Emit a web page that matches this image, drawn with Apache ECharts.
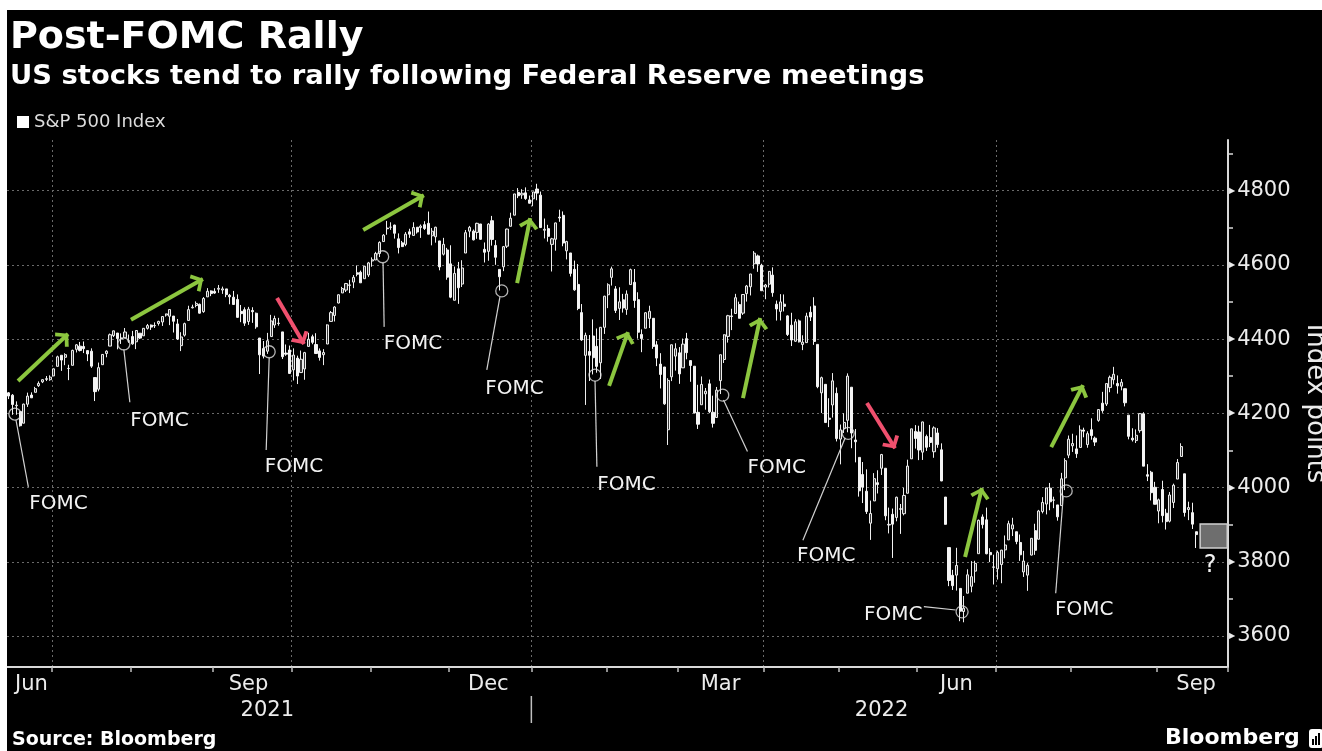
<!DOCTYPE html>
<html>
<head>
<meta charset="utf-8">
<script src="https://cdn.jsdelivr.net/npm/echarts@6/dist/echarts.min.js"></script>
<style>
html,body{margin:0;padding:0;background:#fff;width:1322px;height:751px;overflow:hidden}
#chart{position:absolute;left:7px;top:10px;width:1315px;height:741px;background:#000}
</style>
</head>
<body>
<div id="chart"></div>
<script>
// ---------------- DATA ----------------
const tradingDates = [
'2021-06-15','2021-06-16','2021-06-17','2021-06-18','2021-06-21','2021-06-22','2021-06-23','2021-06-24','2021-06-25','2021-06-28','2021-06-29','2021-06-30',
'2021-07-01','2021-07-02','2021-07-06','2021-07-07','2021-07-08','2021-07-09','2021-07-12','2021-07-13','2021-07-14','2021-07-15','2021-07-16','2021-07-19','2021-07-20','2021-07-21','2021-07-22','2021-07-23','2021-07-26','2021-07-27','2021-07-28','2021-07-29','2021-07-30',
'2021-08-02','2021-08-03','2021-08-04','2021-08-05','2021-08-06','2021-08-09','2021-08-10','2021-08-11','2021-08-12','2021-08-13','2021-08-16','2021-08-17','2021-08-18','2021-08-19','2021-08-20','2021-08-23','2021-08-24','2021-08-25','2021-08-26','2021-08-27','2021-08-30','2021-08-31',
'2021-09-01','2021-09-02','2021-09-03','2021-09-07','2021-09-08','2021-09-09','2021-09-10','2021-09-13','2021-09-14','2021-09-15','2021-09-16','2021-09-17','2021-09-20','2021-09-21','2021-09-22','2021-09-23','2021-09-24','2021-09-27','2021-09-28','2021-09-29','2021-09-30',
'2021-10-01','2021-10-04','2021-10-05','2021-10-06','2021-10-07','2021-10-08','2021-10-11','2021-10-12','2021-10-13','2021-10-14','2021-10-15','2021-10-18','2021-10-19','2021-10-20','2021-10-21','2021-10-22','2021-10-25','2021-10-26','2021-10-27','2021-10-28','2021-10-29',
'2021-11-01','2021-11-02','2021-11-03','2021-11-04','2021-11-05','2021-11-08','2021-11-09','2021-11-10','2021-11-11','2021-11-12','2021-11-15','2021-11-16','2021-11-17','2021-11-18','2021-11-19','2021-11-22','2021-11-23','2021-11-24','2021-11-26','2021-11-29','2021-11-30',
'2021-12-01','2021-12-02','2021-12-03','2021-12-06','2021-12-07','2021-12-08','2021-12-09','2021-12-10','2021-12-13','2021-12-14','2021-12-15','2021-12-16','2021-12-17','2021-12-20','2021-12-21','2021-12-22','2021-12-23','2021-12-27','2021-12-28','2021-12-29','2021-12-30','2021-12-31',
'2022-01-03','2022-01-04','2022-01-05','2022-01-06','2022-01-07','2022-01-10','2022-01-11','2022-01-12','2022-01-13','2022-01-14','2022-01-18','2022-01-19','2022-01-20','2022-01-21','2022-01-24','2022-01-25','2022-01-26','2022-01-27','2022-01-28','2022-01-31',
'2022-02-01','2022-02-02','2022-02-03','2022-02-04','2022-02-07','2022-02-08','2022-02-09','2022-02-10','2022-02-11','2022-02-14','2022-02-15','2022-02-16','2022-02-17','2022-02-18','2022-02-22','2022-02-23','2022-02-24','2022-02-25','2022-02-28',
'2022-03-01','2022-03-02','2022-03-03','2022-03-04','2022-03-07','2022-03-08','2022-03-09','2022-03-10','2022-03-11','2022-03-14','2022-03-15','2022-03-16','2022-03-17','2022-03-18','2022-03-21','2022-03-22','2022-03-23','2022-03-24','2022-03-25','2022-03-28','2022-03-29','2022-03-30','2022-03-31',
'2022-04-01','2022-04-04','2022-04-05','2022-04-06','2022-04-07','2022-04-08','2022-04-11','2022-04-12','2022-04-13','2022-04-14','2022-04-18','2022-04-19','2022-04-20','2022-04-21','2022-04-22','2022-04-25','2022-04-26','2022-04-27','2022-04-28','2022-04-29',
'2022-05-02','2022-05-03','2022-05-04','2022-05-05','2022-05-06','2022-05-09','2022-05-10','2022-05-11','2022-05-12','2022-05-13','2022-05-16','2022-05-17','2022-05-18','2022-05-19','2022-05-20','2022-05-23','2022-05-24','2022-05-25','2022-05-26','2022-05-27','2022-05-31',
'2022-06-01','2022-06-02','2022-06-03','2022-06-06','2022-06-07','2022-06-08','2022-06-09','2022-06-10','2022-06-13','2022-06-14','2022-06-15','2022-06-16','2022-06-17','2022-06-21','2022-06-22','2022-06-23','2022-06-24','2022-06-27','2022-06-28','2022-06-29','2022-06-30',
'2022-07-01','2022-07-05','2022-07-06','2022-07-07','2022-07-08','2022-07-11','2022-07-12','2022-07-13','2022-07-14','2022-07-15','2022-07-18','2022-07-19','2022-07-20','2022-07-21','2022-07-22','2022-07-25','2022-07-26','2022-07-27','2022-07-28','2022-07-29',
'2022-08-01','2022-08-02','2022-08-03','2022-08-04','2022-08-05','2022-08-08','2022-08-09','2022-08-10','2022-08-11','2022-08-12','2022-08-15','2022-08-16','2022-08-17','2022-08-18','2022-08-19','2022-08-22','2022-08-23','2022-08-24','2022-08-25','2022-08-26','2022-08-29','2022-08-30','2022-08-31',
'2022-09-01','2022-09-02','2022-09-06','2022-09-07','2022-09-08','2022-09-09','2022-09-12','2022-09-13','2022-09-14','2022-09-15','2022-09-16'
];
const futureDates = ['2022-09-19','2022-09-20','2022-09-21','2022-09-22','2022-09-23','2022-09-26','2022-09-27','2022-09-28'];

const open = [
4255.3,4248.9,4220.4,4204.8,4173.4,4224.6,4249.3,4256.6,4274.5,4284.9,4293.2,4290.6,
4300.7,4326.6,4356.5,4351.0,4321.1,4329.4,4372.4,4381.1,4380.1,4369.0,4367.4,4296.4,4265.1,4331.1,4361.3,4381.2,4409.6,4416.4,4402.9,4403.6,4395.1,
4406.9,4392.7,4415.9,4408.9,4429.1,4437.8,4435.8,4442.2,4446.1,4464.8,4461.7,4462.1,4440.9,4382.4,4410.6,4450.3,4484.4,4490.5,4493.8,4474.1,4513.8,4529.8,
4528.8,4534.5,4532.4,4535.4,4518.1,4513.0,4506.9,4474.8,4479.3,4447.5,4477.1,4469.7,4402.9,4374.5,4367.4,4406.8,4438.0,4442.1,4419.5,4362.4,4370.7,
4317.2,4348.8,4309.9,4319.6,4380.4,4406.5,4385.4,4368.3,4358.0,4386.8,4447.7,4463.7,4497.3,4524.4,4532.2,4546.1,4553.7,4578.7,4580.2,4562.8,4572.9,
4610.6,4613.3,4630.7,4662.9,4699.3,4701.5,4707.3,4670.3,4659.4,4655.2,4689.3,4679.4,4701.5,4700.7,4708.4,4712.0,4678.5,4675.8,4664.6,4628.8,4640.3,
4602.8,4504.7,4589.5,4548.4,4632.0,4690.9,4691.0,4687.6,4710.3,4642.0,4636.5,4719.1,4652.5,4587.9,4595.0,4650.4,4704.0,4734.0,4795.5,4788.6,4794.2,4775.2,
4778.1,4804.5,4788.0,4693.4,4697.7,4655.3,4669.1,4728.6,4733.6,4638.0,4632.2,4588.0,4547.4,4471.4,4356.3,4366.6,4408.4,4380.6,4336.2,4431.8,
4519.6,4566.4,4535.4,4482.8,4505.8,4480.0,4547.0,4553.2,4506.3,4412.6,4429.3,4455.8,4456.1,4384.6,4332.7,4324.9,4155.8,4298.4,4354.2,
4363.1,4322.6,4401.3,4342.1,4327.0,4202.7,4223.1,4252.6,4279.5,4202.8,4188.8,4288.1,4345.1,4407.3,4462.4,4469.1,4493.1,4470.0,4522.7,4541.1,4602.9,4624.2,4599.0,
4540.3,4548.0,4572.5,4494.2,4474.7,4494.2,4462.6,4437.6,4394.3,4449.1,4385.6,4390.6,4472.3,4489.2,4385.8,4255.3,4278.1,4187.0,4222.6,4253.8,
4130.6,4159.8,4181.2,4270.4,4128.2,4081.3,4035.2,3990.1,3904.0,3963.9,4013.0,4052.0,4052.0,3899.0,3927.8,3919.4,3942.9,3929.6,3984.6,4077.4,4151.1,
4149.8,4095.4,4137.6,4134.7,4096.5,4147.1,4101.7,3974.4,3838.2,3763.5,3764.0,3728.2,3665.9,3715.3,3733.9,3774.7,3821.8,3920.8,3913.0,3825.1,3786.0,
3781.0,3792.6,3832.0,3858.9,3888.3,3880.9,3852.0,3772.5,3764.0,3818.0,3883.8,3860.7,3935.3,3955.5,3998.4,3965.7,3953.2,3951.4,4026.1,4087.3,
4112.4,4104.2,4108.0,4154.9,4115.9,4155.9,4133.1,4181.0,4227.4,4225.0,4269.4,4290.5,4280.4,4273.1,4266.3,4195.1,4133.1,4126.6,4153.3,4198.7,4034.6,4041.3,4000.7,
3936.7,3994.7,3930.9,3909.4,3959.9,4022.9,4083.7,4037.1,3940.7,3932.4,3881.0
];
const close = [
4246.6,4223.7,4221.9,4166.5,4224.8,4246.4,4241.8,4266.5,4280.7,4290.6,4291.8,4297.5,
4319.9,4352.3,4343.5,4358.1,4320.8,4369.6,4384.6,4369.2,4374.3,4360.0,4327.2,4258.5,4323.1,4358.7,4367.5,4411.8,4422.3,4401.5,4400.6,4419.2,4395.3,
4387.2,4423.2,4402.7,4429.1,4436.5,4432.4,4436.8,4447.7,4460.8,4468.0,4479.7,4448.1,4400.3,4405.8,4441.7,4479.5,4486.2,4496.2,4470.0,4509.4,4528.8,4522.7,
4524.1,4537.0,4535.4,4520.0,4514.1,4493.3,4458.6,4468.7,4443.1,4480.7,4473.8,4433.0,4357.7,4354.2,4395.6,4449.0,4455.5,4443.1,4352.6,4359.5,4307.5,
4357.0,4300.5,4345.7,4363.6,4399.8,4391.3,4361.2,4350.7,4363.8,4438.3,4471.4,4486.5,4519.6,4536.2,4549.8,4544.9,4566.5,4574.8,4551.7,4596.4,4605.4,
4613.7,4630.7,4660.6,4680.1,4697.5,4701.7,4685.3,4646.7,4649.3,4682.9,4682.8,4700.9,4688.7,4704.5,4698.0,4682.9,4690.7,4701.5,4594.6,4655.3,4567.0,
4513.0,4577.1,4538.4,4591.7,4686.8,4701.2,4667.5,4712.0,4669.0,4634.1,4709.9,4668.7,4620.6,4568.0,4649.2,4696.6,4725.8,4791.2,4786.4,4793.1,4778.7,4766.2,
4796.6,4793.5,4700.6,4696.1,4677.0,4670.3,4713.1,4726.4,4659.0,4662.9,4577.1,4532.8,4482.7,4397.9,4410.1,4356.5,4349.9,4326.5,4431.9,4515.6,
4546.5,4589.4,4477.4,4500.5,4483.9,4521.5,4587.2,4504.1,4418.6,4401.7,4471.1,4475.0,4380.3,4348.9,4304.8,4225.5,4288.7,4384.7,4373.9,
4306.3,4386.5,4363.5,4328.9,4201.1,4170.7,4277.9,4259.5,4204.3,4173.1,4262.5,4357.9,4411.7,4463.1,4461.2,4511.6,4456.2,4520.2,4543.1,4575.5,4631.6,4602.5,4530.4,
4545.9,4582.6,4525.1,4481.2,4500.2,4488.3,4412.5,4397.5,4446.6,4392.6,4391.7,4462.2,4459.5,4393.7,4271.8,4296.1,4175.2,4184.0,4287.5,4131.9,
4155.4,4175.5,4300.2,4146.9,4123.3,3991.2,4001.1,3935.2,3930.1,4023.9,4008.0,4088.9,3923.7,3900.8,3901.4,3973.8,3941.5,3978.7,4057.8,4158.2,4132.2,
4101.2,4176.8,4108.5,4121.4,4160.7,4115.8,4017.8,3900.9,3749.6,3735.5,3790.0,3666.8,3674.8,3764.8,3759.9,3795.7,3911.7,3900.1,3821.6,3818.8,3785.4,
3825.3,3831.4,3845.1,3902.6,3899.4,3854.4,3818.8,3801.8,3790.4,3863.2,3830.9,3936.7,3959.9,3999.0,3961.6,3966.8,3921.1,4023.6,4072.4,4130.3,
4118.6,4091.2,4155.2,4151.9,4145.2,4140.1,4122.5,4210.2,4207.3,4280.2,4297.1,4305.2,4274.0,4283.7,4228.5,4138.0,4128.7,4140.8,4199.1,4057.7,4030.6,3986.2,3955.0,
3966.9,3924.3,3908.2,3979.9,4006.2,4067.4,4110.4,3932.7,3946.0,3901.4,3873.3
];
const low = [
4238.4,4196.0,4196.1,4164.4,4173.4,4217.3,4241.4,4256.6,4271.2,4281.5,4287.0,4287.8,
4300.7,4326.6,4314.4,4329.8,4289.4,4329.4,4364.0,4366.9,4362.4,4340.7,4322.5,4233.1,4259.2,4331.1,4351.0,4381.2,4405.5,4372.5,4387.0,4403.6,4389.9,
4384.8,4373.0,4400.2,4408.9,4425.8,4424.7,4430.0,4436.4,4435.5,4460.6,4437.7,4417.8,4397.6,4367.7,4406.8,4450.3,4482.7,4485.7,4468.9,4471.0,4513.8,4515.8,
4522.0,4524.7,4521.9,4513.0,4493.9,4492.1,4457.7,4445.7,4435.5,4438.4,4443.8,4427.8,4305.9,4347.9,4360.2,4406.8,4430.3,4436.2,4346.3,4355.1,4306.2,
4288.5,4278.9,4309.9,4290.5,4380.4,4386.2,4360.6,4342.1,4329.9,4386.8,4447.7,4447.5,4496.4,4524.4,4526.9,4524.0,4537.4,4569.2,4551.7,4562.8,4567.6,
4595.1,4613.3,4621.2,4662.6,4681.3,4694.4,4670.9,4630.9,4648.3,4650.4,4672.9,4679.4,4684.4,4672.8,4694.2,4682.2,4652.7,4659.9,4585.4,4625.3,4560.0,
4510.3,4504.7,4495.1,4540.5,4632.0,4674.5,4666.0,4670.2,4667.6,4606.5,4611.2,4651.9,4600.2,4531.1,4583.2,4645.5,4704.0,4734.0,4780.0,4778.1,4775.3,4765.8,
4758.2,4774.3,4699.4,4671.3,4662.7,4582.2,4638.3,4716.1,4650.3,4614.8,4568.7,4530.2,4478.0,4395.3,4222.6,4287.1,4304.8,4309.5,4292.5,4414.0,
4483.5,4544.3,4470.4,4451.5,4471.5,4465.4,4547.0,4484.3,4401.4,4364.8,4429.3,4429.8,4373.8,4327.2,4267.1,4223.0,4114.7,4286.8,4315.1,
4279.5,4322.6,4345.6,4285.0,4199.9,4157.9,4223.1,4209.8,4200.5,4161.7,4187.9,4252.0,4335.7,4390.6,4424.3,4469.1,4455.8,4465.2,4501.1,4517.7,4589.7,4581.3,4530.4,
4507.6,4539.2,4514.2,4450.0,4450.3,4474.6,4408.4,4381.3,4392.7,4390.9,4370.3,4390.6,4448.8,4384.5,4267.6,4200.8,4175.0,4162.9,4188.6,4124.3,
4062.5,4147.1,4148.9,4106.0,4067.9,3975.5,3958.2,3928.8,3858.9,3963.9,3984.0,4033.9,3911.9,3876.4,3810.3,3909.0,3875.1,3925.0,3984.6,4077.4,4104.9,
4073.9,4074.4,4098.7,4109.2,4080.2,4107.2,4017.2,3900.2,3734.3,3724.0,3722.3,3639.8,3636.9,3715.3,3717.7,3743.5,3821.8,3889.7,3820.1,3799.0,3738.7,
3752.1,3742.1,3809.4,3858.9,3869.3,3847.2,3802.4,3759.1,3721.6,3817.2,3818.6,3860.7,3930.4,3927.6,3938.8,3944.4,3910.7,3951.4,3993.0,4079.2,
4096.0,4079.8,4108.0,4135.4,4107.3,4129.0,4112.1,4177.3,4201.4,4219.8,4256.9,4277.8,4253.1,4262.0,4218.7,4129.9,4124.0,4120.0,4147.6,4057.7,4017.4,3965.2,3954.5,
3903.7,3906.2,3886.8,3906.0,3944.8,4022.9,4083.7,3921.7,3912.2,3888.3,3837.1
];
const high = [
4257.2,4251.9,4232.3,4204.8,4226.2,4255.8,4256.6,4271.3,4286.1,4292.1,4300.5,4302.4,
4320.7,4355.4,4356.5,4361.9,4330.9,4371.6,4386.7,4392.4,4393.7,4369.0,4375.1,4296.4,4336.8,4359.7,4369.9,4415.0,4422.7,4416.4,4415.5,4429.9,4412.3,
4422.2,4423.8,4416.2,4429.8,4440.8,4439.4,4445.2,4449.4,4461.8,4468.4,4480.3,4462.1,4454.3,4418.6,4444.4,4489.9,4492.8,4501.7,4495.9,4513.3,4537.4,4531.4,
4537.1,4545.9,4541.5,4535.4,4521.8,4529.9,4520.5,4492.0,4485.7,4486.9,4485.9,4471.5,4402.9,4394.9,4416.8,4465.4,4463.1,4457.3,4419.5,4385.6,4382.6,
4375.2,4355.5,4369.2,4365.6,4417.0,4412.0,4415.9,4374.9,4372.9,4439.7,4475.8,4488.8,4520.4,4540.9,4551.4,4559.7,4572.6,4598.5,4584.6,4597.6,4608.1,
4620.3,4635.2,4663.5,4683.0,4718.5,4714.9,4708.5,4684.9,4664.6,4688.5,4697.4,4714.9,4701.5,4708.8,4717.8,4743.8,4699.4,4702.9,4664.6,4672.9,4646.0,
4652.9,4595.5,4608.0,4612.6,4694.0,4705.1,4695.3,4713.6,4710.3,4660.5,4712.6,4732.0,4666.7,4587.9,4651.1,4697.7,4740.7,4791.5,4807.0,4804.1,4808.9,4786.8,
4796.6,4818.6,4797.7,4725.0,4708.0,4673.0,4714.1,4748.8,4744.1,4665.1,4632.2,4611.6,4602.1,4494.5,4417.4,4411.0,4453.2,4428.7,4432.7,4516.9,
4550.5,4595.3,4542.9,4539.7,4521.9,4531.3,4590.0,4588.9,4526.3,4426.2,4472.8,4490.0,4456.1,4394.6,4362.1,4325.0,4294.7,4385.3,4388.8,
4378.5,4401.5,4416.8,4342.1,4327.0,4276.9,4299.4,4268.3,4291.0,4247.6,4271.1,4358.0,4412.7,4465.4,4481.8,4522.0,4501.1,4520.6,4546.0,4575.7,4637.3,4627.8,4603.1,
4548.7,4583.5,4593.5,4503.9,4521.2,4520.4,4464.4,4471.0,4453.9,4452.8,4410.3,4471.0,4488.3,4512.9,4385.8,4299.0,4278.1,4240.7,4308.5,4269.7,
4169.8,4200.1,4307.7,4270.4,4157.7,4081.3,4068.8,4049.1,3964.8,4038.9,4046.5,4090.7,4052.0,3946.0,3943.4,3975.5,3955.7,3999.3,4075.1,4158.5,4168.3,
4166.5,4177.5,4142.7,4168.8,4164.9,4160.1,4119.1,3974.4,3838.2,3778.2,3837.6,3728.2,3707.7,3779.7,3801.8,3802.6,3913.7,3927.7,3945.9,3836.5,3819.0,
3829.8,3832.2,3870.9,3910.6,3918.5,3880.9,3873.4,3829.4,3796.4,3863.6,3902.4,3939.8,3974.1,3999.3,4012.4,3975.3,3953.2,4039.6,4079.0,4140.2,
4145.0,4140.5,4167.7,4161.3,4151.6,4186.6,4137.3,4211.0,4257.9,4280.5,4301.8,4325.3,4302.2,4292.5,4266.3,4195.1,4159.8,4156.6,4200.5,4203.0,4063.0,4045.0,4015.4,
3970.2,4018.4,3942.6,3987.9,4010.5,4076.8,4119.3,4037.1,3961.9,3959.1,3881.0
];

// axis tick labels
const majorTicks = [3600, 3800, 4000, 4200, 4400, 4600, 4800];
const minorTicks = [3700, 3900, 4100, 4300, 4500, 4700, 4900];
const monthLabelDates = ['2021-06-23','2021-09-15','2021-12-15','2022-03-16','2022-06-15','2022-09-16'];
const monthLabelTexts = ['Jun','Sep','Dec','Mar','Jun','Sep'];
const yearLabelDates = ['2021-09-22','2022-05-17'];
const yearLabelTexts = ['2021','2022'];

// annotations: [trading-day index, index points]
const fomcCircles = [[1.6,4198],[30.7,4387],[69.5,4366],[99.8,4622],[131.6,4530],[156.5,4303],[190.6,4249],[224.1,4146],[254.5,3665],[282.3,3991]];
const fomcLeaders = [
  [[1.9,4182],[5.2,4002]], [[30.7,4372],[32.3,4230]], [[69.5,4349],[68.7,4101]], [[99.9,4605],[100.2,4433]],
  [[131.1,4513],[127.6,4317]], [[156.5,4287],[157.0,4056]], [[190.8,4236],[197.2,4097]], [[223.3,4134],[212.0,3858]],
  [[244.3,3679],[252.8,3670]], [[281.5,3975],[279.5,3715]]
];
const fomcLabels = [[13.25,3955],[40.2,4179],[76.1,4056],[107.9,4387],[135.0,4267],[164.9,4007],[205.0,4052],[218.2,3815],[236.1,3658],[287.1,3671]];
const greenArrows = [
  [[2.44,4287],[15.79,4414]], [[32.6,4452],[51.8,4562]], [[94.6,4694],[110.8,4788]], [[135.7,4551],[139.2,4726]],
  [[160.25,4274],[165.3,4419]], [[196.0,4241],[200.6,4457]], [[255.3,3813],[259.8,3999]], [[278.3,4109],[286.8,4276]]
];
const redArrows = [[[71.6,4511],[78.8,4387]], [[229.1,4228],[236.6,4106]]];
const futureBox = [[318.06,3902],[325.3,3837]];
const questionMark = [320.7,3788];

const Y_MIN = 3516.4, Y_MAX = 4936.6;

// ---------------- BUILD ----------------
[open, close, low, high].forEach(a => { if (a.length !== tradingDates.length) throw new Error('length mismatch ' + a.length + ' vs ' + tradingDates.length); });

const FONT = 'DejaVu Sans';
const allDates = tradingDates.concat(futureDates);
const candles = tradingDates.map((d, i) => [open[i], close[i], low[i], high[i]]);
const monthStart = allDates.map((d, i) => i > 0 && d.slice(5, 7) !== allDates[i - 1].slice(5, 7));
const quarterStart = allDates.map((d, i) => monthStart[i] && ['01','04','07','10'].indexOf(d.slice(5, 7)) >= 0);
const CHEVRON = 'path://M10,10L19,18L16.5,20.5L10,14.5L3.5,20.5L1,18Z M0,0L0.01,0L0,0.01Z M20,0L20,0.01L19.99,0Z';

const chart = echarts.init(document.getElementById('chart'), null, {renderer: 'canvas'});

const option = {
  backgroundColor: '#000',
  animation: false,
  textStyle: {fontFamily: FONT},
  title: [
    {text: 'Post-FOMC Rally', left: 3, top: 9, padding: 0,
     textStyle: {color: '#fff', fontSize: 38, fontWeight: 'bold', fontFamily: FONT}},
    {text: 'US stocks tend to rally following Federal Reserve meetings', left: 3, top: 53, padding: 0,
     textStyle: {color: '#fff', fontSize: 27.4, fontWeight: 'bold', fontFamily: FONT}}
  ],
  legend: {
    left: 10, top: 103, padding: 0, itemWidth: 12, itemHeight: 12, itemGap: 5, icon: 'rect', selectedMode: false,
    data: [{name: 'S&P 500 Index', itemStyle: {color: '#fff', borderWidth: 0}}],
    textStyle: {color: '#dcdcdc', fontSize: 18, fontFamily: FONT}
  },
  grid: {left: 0, right: 94, top: 130, bottom: 84, containLabel: false, outerBoundsMode: 'none'},
  xAxis: [
    {
      type: 'category', data: allDates, boundaryGap: true, position: 'bottom',
      axisLine: {show: true, onZero: false, lineStyle: {color: '#d9d9d9', width: 2}},
      axisTick: {show: true, interval: (i) => monthStart[i], length: 5, lineStyle: {color: '#bfbfbf', width: 1.5}},
      axisLabel: {
        show: true, interval: (i, v) => monthLabelDates.indexOf(v) >= 0,
        formatter: (v) => monthLabelTexts[monthLabelDates.indexOf(v)] || '',
        color: '#ececec', fontSize: 21, margin: 7, fontFamily: FONT, hideOverlap: false
      },
      splitLine: {show: true, interval: (i) => quarterStart[i], lineStyle: {color: '#6a6a6a', type: [2, 3], width: 1}}
    },
    {
      type: 'category', data: allDates, boundaryGap: true, position: 'bottom', offset: 26,
      axisLine: {show: false, onZero: false}, axisTick: {show: false}, splitLine: {show: false},
      axisLabel: {
        show: true, interval: (i, v) => yearLabelDates.indexOf(v) >= 0,
        formatter: (v) => yearLabelTexts[yearLabelDates.indexOf(v)] || '',
        color: '#ececec', fontSize: 21, margin: 7, fontFamily: FONT, hideOverlap: false
      }
    },
    {type: 'value', min: -0.5, max: allDates.length - 0.5, show: false,
     axisLine: {onZero: false}, splitLine: {show: false}}
  ],
  yAxis: [
    {
      type: 'value', position: 'right', min: Y_MIN, max: Y_MAX, scale: true,
      axisLine: {show: true, onZero: false, lineStyle: {color: '#d9d9d9', width: 2}},
      axisTick: {show: false, customValues: majorTicks},
      axisLabel: {
        show: true, customValues: majorTicks, margin: 1,
        formatter: (v) => '{t|\u25B6}{v|' + v + '}',
        rich: {
          t: {fontSize: 8, color: '#ececec', verticalAlign: 'middle', fontFamily: FONT},
          v: {fontSize: 21, color: '#ececec', verticalAlign: 'middle', fontFamily: FONT, padding: [0, 0, 0, 2]}
        }
      },
      splitLine: {show: true, lineStyle: {color: '#6a6a6a', type: [2, 3], width: 1}},
      name: 'Index points', nameLocation: 'middle', nameRotate: -90, nameGap: 72,
      nameTextStyle: {color: '#ececec', fontSize: 26, fontFamily: FONT}
    },
    {
      type: 'value', position: 'right', min: Y_MIN, max: Y_MAX, scale: true,
      axisLine: {show: false, onZero: false},
      axisTick: {show: true, customValues: minorTicks, length: 5, lineStyle: {color: '#d9d9d9', width: 1.5}},
      axisLabel: {show: false}, splitLine: {show: false}
    }
  ],
  series: [
    {
      type: 'candlestick', name: 'S&P 500 Index', xAxisIndex: 0, yAxisIndex: 0,
      data: candles, barWidth: 2.6, z: 2,
      itemStyle: {color: '#3a3a3a', color0: '#f4f4f4', borderColor: '#ededed', borderColor0: '#f4f4f4', borderWidth: 1}
    },
    {
      type: 'scatter', name: 'fomc-circles', xAxisIndex: 2, yAxisIndex: 0, z: 5, silent: true,
      data: fomcCircles, symbol: 'circle', symbolSize: 12,
      itemStyle: {color: 'rgba(0,0,0,0)', borderColor: '#e0e0e0', borderWidth: 1.3},
      markLine: {
        silent: true, symbol: ['none', 'none'], label: {show: false}, animation: false,
        lineStyle: {color: '#d2d2d2', width: 1.2, type: 'solid'},
        data: fomcLeaders.map(p => [{coord: p[0]}, {coord: p[1]}])
      }
    },
    {
      type: 'scatter', name: 'fomc-labels', xAxisIndex: 2, yAxisIndex: 0, z: 6, silent: true,
      data: fomcLabels.map(p => ({value: p, name: 'FOMC'}))
        .concat([{value: questionMark, name: '?', label: {fontSize: 24}}]),
      symbolSize: 1, itemStyle: {color: 'rgba(0,0,0,0)'},
      label: {show: true, position: 'inside', formatter: '{b}', color: '#f2f2f2', opacity: 1, fontSize: 20, fontFamily: FONT},
      markArea: {
        silent: true, animation: false,
        itemStyle: {color: '#6e6e6e', borderColor: '#d0d0d0', borderWidth: 1.5},
        data: [[{coord: futureBox[0]}, {coord: futureBox[1]}]]
      }
    },
    {
      type: 'line', name: 'rally-arrows', xAxisIndex: 2, yAxisIndex: 0, data: [], z: 7, silent: true,
      markLine: {
        silent: true, symbol: ['none', CHEVRON], symbolSize: 22, label: {show: false}, animation: false,
        lineStyle: {color: '#8cc63f', width: 4, type: 'solid', opacity: 1},
        data: greenArrows.map(p => [{coord: p[0]}, {coord: p[1]}])
      }
    },
    {
      type: 'line', name: 'drop-arrows', xAxisIndex: 2, yAxisIndex: 0, data: [], z: 7, silent: true,
      markLine: {
        silent: true, symbol: ['none', CHEVRON], symbolSize: 22, label: {show: false}, animation: false,
        lineStyle: {color: '#f0506e', width: 4, type: 'solid', opacity: 1},
        data: redArrows.map(p => [{coord: p[0]}, {coord: p[1]}])
      }
    }
  ]
};
chart.setOption(option);

// Year divider under the axis, at the first 2022 session boundary
const firstIdx2022 = allDates.indexOf('2022-01-03');
const dividerX = chart.convertToPixel({xAxisIndex: 2}, firstIdx2022 - 0.5);
chart.setOption({
  graphic: [
    {type: 'line', shape: {x1: dividerX, y1: 686, x2: dividerX, y2: 713}, style: {stroke: '#bfbfbf', lineWidth: 1.5}, silent: true},
    {type: 'text', x: 5, y: 730, style: {text: 'Source: Bloomberg', fill: '#fff', font: 'bold 19px "DejaVu Sans"', verticalAlign: 'middle'}, silent: true},
    {type: 'text', x: 1158, y: 728, style: {text: 'Bloomberg', fill: '#fff', font: 'bold 22px "DejaVu Sans"', verticalAlign: 'middle'}, silent: true},
    {type: 'rect', shape: {x: 1302, y: 719, width: 14, height: 19, r: 3}, style: {fill: '#fff'}, silent: true},
    {type: 'rect', shape: {x: 1305, y: 729, width: 2, height: 6}, style: {fill: '#000'}, silent: true},
    {type: 'rect', shape: {x: 1308, y: 726, width: 2, height: 9}, style: {fill: '#000'}, silent: true},
    {type: 'rect', shape: {x: 1311, y: 723, width: 2, height: 12}, style: {fill: '#000'}, silent: true}
  ]
});
</script>
</body>
</html>
